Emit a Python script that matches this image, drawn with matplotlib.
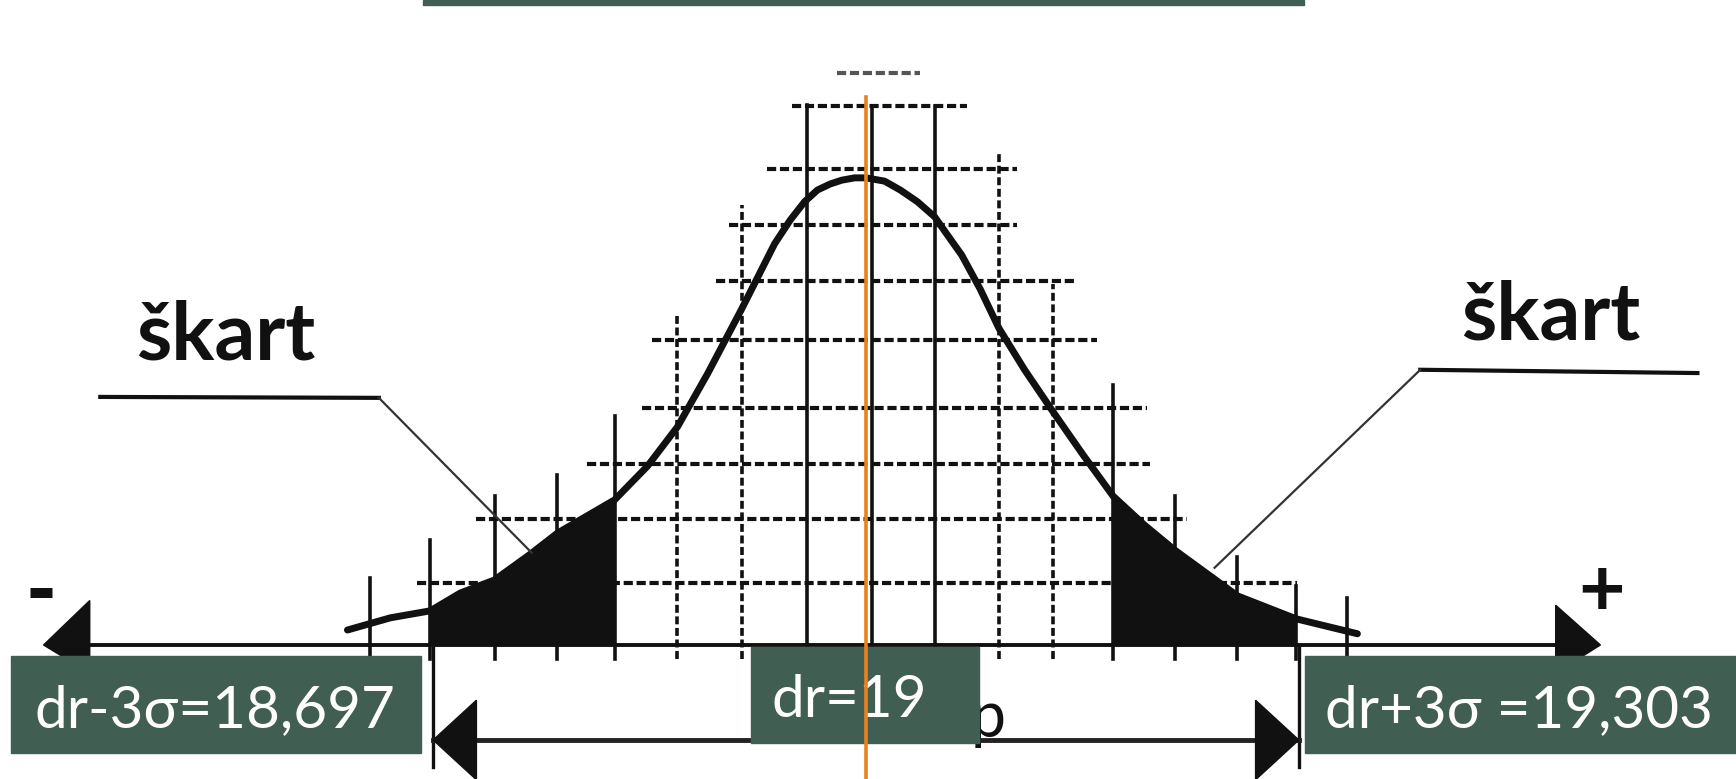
import numpy as np
import matplotlib.pyplot as plt
from matplotlib.patches import Rectangle, Polygon

# nominal size and spread (mm)
dr = 19.0
sigma = 0.101
lower = dr - 3 * sigma
upper = dr + 3 * sigma

# curve: position (mm) and height relative to the peak
curve_x = [18.637, 18.667, 18.695, 18.716, 18.740, 18.765, 18.784, 18.824, 18.847, 18.868,
           18.889, 18.913, 18.936, 18.947, 18.957, 18.966, 18.975, 18.983, 18.992, 19.000,
           19.013, 19.024, 19.036, 19.048, 19.057, 19.067, 19.080, 19.093, 19.111, 19.131,
           19.152, 19.173, 19.195, 19.216, 19.238, 19.260, 19.301, 19.344]
curve_y = [0.032, 0.058, 0.073, 0.111, 0.139, 0.194, 0.239, 0.310, 0.382, 0.466,
           0.579, 0.718, 0.857, 0.908, 0.947, 0.972, 0.985, 0.993, 0.998, 0.998,
           0.991, 0.972, 0.947, 0.915, 0.876, 0.833, 0.760, 0.677, 0.588, 0.498,
           0.406, 0.318, 0.256, 0.203, 0.154, 0.105, 0.056, 0.024]

# shaded reject zones (škart)
skart_left = [18.695, 18.824]
skart_right = [19.173, 19.301]

# background grid of the scanned drawing
grid_v_x = [18.653, 18.695, 18.740, 18.784, 18.824, 18.868, 18.913, 18.959, 19.004,
            19.048, 19.093, 19.131, 19.173, 19.216, 19.260, 19.301, 19.337]
grid_v_top = [0.143, 0.224, 0.318, 0.363, 0.489, 0.703, 0.940, 1.154, 1.152,
              1.152, 1.053, 0.771, 0.556, 0.318, 0.188, 0.126, 0.100]
grid_h_y = [1.222, 1.152, 1.017, 0.897, 0.778, 0.652, 0.506, 0.387, 0.269, 0.132]
grid_h_from = [18.980, 18.948, 18.931, 18.904, 18.895, 18.850, 18.843, 18.805, 18.727, 18.686]
grid_h_to = [19.038, 19.071, 19.106, 19.106, 19.147, 19.162, 19.197, 19.199, 19.225, 19.302]

label_lo = "dr-3σ=" + f"{lower:.3f}".replace(".", ",")
label_mid = "dr=" + f"{dr:g}"
label_hi = "dr+3σ =" + f"{upper:.3f}".replace(".", ",")

green = "#415e52"
ink = "#111111"

fig = plt.figure(figsize=(17.36, 7.79), dpi=100)
ax = fig.add_axes([0, 0, 1, 1])
ax.set_xlim(dr - 866 * 0.0007, dr + 870 * 0.0007)
ax.set_ylim(-0.2863, 1.378)
ax.axis("off")

cx = np.array(curve_x)
cy = np.array(curve_y)

# grid
for x, top in zip(grid_v_x, grid_v_top):
    ls = (0, (2.2, 1.0)) if 0.05 < abs(x - dr) < 1.5 * sigma else "-"
    ax.plot([x, x], [-0.03, top], color=ink, lw=2.6, ls=ls, zorder=2)
for y, a, b in zip(grid_h_y, grid_h_from, grid_h_to):
    col = "#555555" if y > 1.2 else ink
    ax.plot([a, b], [y, y], color=col, lw=3.0, ls=(0, (2.2, 0.9)), zorder=2)

# main axis with arrows
ax.plot([dr - 5.4 * sigma, dr + 4.8 * sigma], [0, 0], color=ink, lw=2.8, zorder=2)
ax.add_patch(Polygon([[dr - 5.7 * sigma, 0], [dr - 5.38 * sigma, 0.095], [dr - 5.38 * sigma, -0.06]],
                     closed=True, color=ink, zorder=3))
ax.add_patch(Polygon([[dr + 5.09 * sigma, 0], [dr + 4.78 * sigma, 0.085], [dr + 4.78 * sigma, -0.06]],
                     closed=True, color=ink, zorder=3))
ax.text(dr - 5.72 * sigma, 0.107, "-", fontsize=60, fontweight="black", family="Lato",
        ha="center", va="center", color=ink)
ax.text(dr + 5.1 * sigma, 0.112, "+", fontsize=58, fontweight="bold", family="Lato",
        ha="center", va="center", color=ink)

# tolerance dimension line
ax.plot([lower, lower], [0, -0.26], color=ink, lw=2.4, zorder=2)
ax.plot([upper, upper], [0, -0.26], color=ink, lw=2.4, zorder=2)
ax.plot([lower, upper], [-0.203, -0.203], color="#222222", lw=3.5, zorder=2)
ax.add_patch(Polygon([[lower, -0.203], [lower + 0.3 * sigma, -0.118], [lower + 0.3 * sigma, -0.288]],
                     closed=True, color=ink, zorder=3))
ax.add_patch(Polygon([[upper, -0.203], [upper - 0.3 * sigma, -0.118], [upper - 0.3 * sigma, -0.288]],
                     closed=True, color=ink, zorder=3))
ax.text(19.073, -0.197, "p", fontsize=45, family="Lato", color=ink, ha="left", va="baseline", zorder=1)

# curve and shaded reject zones
for a, b in (skart_left, skart_right):
    m = (cx >= a - 1e-6) & (cx <= b + 1e-6)
    ax.fill_between(cx[m], 0, cy[m], color=ink, lw=0, zorder=3)
ax.plot(cx, cy, color=ink, lw=5, solid_capstyle="round", solid_joinstyle="round", zorder=4)

# škart labels with leader lines
ax.text(18.552, 0.609, "škart", fontsize=58, fontweight="bold", family="Lato",
        ha="center", va="baseline", color=ink)
ax.text(19.479, 0.652, "škart", fontsize=58, fontweight="bold", family="Lato",
        ha="center", va="baseline", color=ink)
ax.plot([18.464, 18.659], [0.530, 0.528], color=ink, lw=3.0, zorder=4)
ax.plot([18.659, 18.766], [0.528, 0.197], color="#333333", lw=1.6, zorder=4)
ax.plot([19.582, 19.388], [0.581, 0.588], color=ink, lw=3.0, zorder=4)
ax.plot([19.388, 19.244], [0.588, 0.165], color="#333333", lw=1.6, zorder=4)

# green label boxes
boxes = [(0.0063, 0.0334, 0.2362, 0.1245, label_lo, 0.0196, 0.0668),
         (0.4326, 0.0462, 0.1313, 0.1232, label_mid, 0.4447, 0.0796),
         (0.7517, 0.0334, 0.2483, 0.1245, label_hi, 0.7633, 0.0668)]
for x0, y0, w, h, txt, tx, ty in boxes:
    ax.add_patch(Rectangle((x0, y0), w, h, transform=ax.transAxes, color=green, zorder=5))
    ax.text(tx, ty, txt, transform=ax.transAxes, fontsize=42, family="Lato",
            color="white", ha="left", va="baseline", zorder=6)
ax.add_patch(Rectangle((0.2437, 0.9936), 0.5075, 0.0064, transform=ax.transAxes,
                       color=green, zorder=5))

# mean marker
ax.plot([dr, dr], [1.171, -0.2863], color="#e8821e", lw=2.6, zorder=7)

fig.savefig("out.png", dpi=100)
